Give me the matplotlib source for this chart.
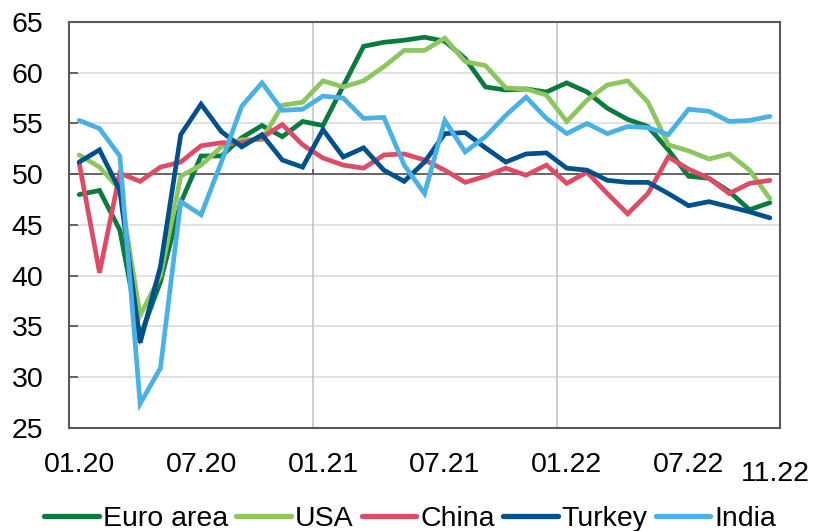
import matplotlib
matplotlib.use('Agg')
import matplotlib.pyplot as plt

plt.rcParams['font.family'] = ['Liberation Sans', 'DejaVu Sans']

# monthly PMI readings, 01.20 .. 11.22
months = ['%02d.%02d' % (m, y) for y in (20, 21, 22) for m in range(1, 13)][:35]

euro = [48.0, 48.4, 44.5, 34.0, 39.4, 47.2, 51.8, 51.8, 53.6, 54.8, 53.7, 55.2,
        54.8, 58.7, 62.6, 63.0, 63.2, 63.5, 63.1, 61.4, 58.6, 58.3, 58.4, 58.1,
        59.0, 58.1, 56.5, 55.4, 54.7, 52.4, 49.8, 49.6, 48.3, 46.5, 47.2]
usa = [51.9, 50.7, 48.5, 36.1, 40.0, 49.8, 50.9, 52.7, 53.4, 53.4, 56.8, 57.1,
       59.2, 58.6, 59.2, 60.6, 62.2, 62.2, 63.4, 61.1, 60.7, 58.5, 58.4, 57.8,
       55.2, 57.3, 58.8, 59.2, 57.1, 52.9, 52.3, 51.5, 52.0, 50.4, 47.6]
china = [51.1, 40.3, 50.1, 49.3, 50.7, 51.2, 52.8, 53.1, 53.1, 53.6, 54.9, 52.9,
         51.6, 50.9, 50.6, 51.9, 52.0, 51.4, 50.4, 49.2, 49.8, 50.6, 49.9, 50.9,
         49.1, 50.2, 48.1, 46.1, 48.1, 51.7, 50.5, 49.6, 48.1, 49.1, 49.4]
turkey = [51.2, 52.4, 48.4, 33.4, 40.9, 53.9, 56.9, 54.2, 52.7, 53.9, 51.4, 50.7,
          54.4, 51.7, 52.6, 50.4, 49.3, 51.2, 54.0, 54.1, 52.6, 51.2, 52.0, 52.1,
          50.6, 50.4, 49.4, 49.2, 49.2, 48.1, 46.9, 47.3, 46.8, 46.3, 45.7]
india = [55.3, 54.5, 51.8, 27.4, 30.9, 47.3, 46.0, 51.2, 56.7, 59.0, 56.3, 56.4,
         57.7, 57.5, 55.5, 55.6, 50.9, 48.1, 55.3, 52.2, 53.7, 55.8, 57.6, 55.5,
         54.0, 55.0, 54.0, 54.7, 54.6, 53.9, 56.4, 56.2, 55.2, 55.3, 55.7]

series = [('Euro area', euro, '#0B7A3E'),
          ('USA', usa, '#8DC65F'),
          ('China', china, '#DD4C66'),
          ('Turkey', turkey, '#00508C'),
          ('India', india, '#4AB1E5')]

tick_labels = ['01.20', '07.20', '01.21', '07.21', '01.22', '07.22']
last_label = '11.22'

fig = plt.figure(figsize=(8.16, 5.31), dpi=100)
ax = fig.add_axes([0.0846, 0.194, 0.8713, 0.7646])

x = list(range(len(months)))
n = len(months)

# background grid
for yv in (30, 35, 40, 45, 55, 60):
    ax.axhline(yv, color='#D9D9D9', lw=1.1, zorder=0)
for xb in (11.5, 23.5):
    ax.axvline(xb, color='#C0C6CC', lw=1.2, zorder=0)
ax.axhline(50, color='#595959', lw=1.3, zorder=1)
ax.vlines([11.5, 23.5], 50, 50.55, color='#595959', lw=1.3, zorder=1)

for name, vals, col in series:
    ax.plot(x, vals, color=col, lw=3.4, label=name, zorder=3,
            solid_joinstyle='miter', solid_capstyle='round')

ax.set_xlim(-0.5, n - 0.5)
ax.set_ylim(25, 65)
ax.set_yticks(range(25, 70, 5))

ax.set_xticks([months.index(t) for t in tick_labels])
ax.set_xticklabels(tick_labels)
# end-of-period label sits a little lower than the regular ticks
ax.text(months.index(last_label) + 0.25, 21.75, last_label, fontsize=20.5,
        ha='center', va='top', clip_on=False)

ax.tick_params(axis='x', length=0, pad=17, labelsize=20.5)
ax.tick_params(axis='y', direction='in', length=6.5, width=1.3,
               color='#595959', pad=18.5, labelsize=20.5)

for sp in ax.spines.values():
    sp.set_color('#595959')
    sp.set_linewidth(1.5)

leg = fig.legend(loc='center', bbox_to_anchor=(0.503, 0.022), ncol=5,
                 frameon=False, fontsize=20.5, handlelength=1.9,
                 handletextpad=0.15, columnspacing=0.3, borderaxespad=0)
for h in leg.get_lines():
    h.set_linewidth(3.8)
    h.set_solid_capstyle('round')

fig.savefig('out.png', dpi=100, facecolor='white')
